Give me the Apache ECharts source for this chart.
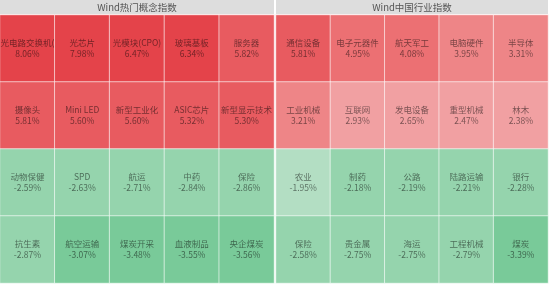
<!DOCTYPE html>
<html>
<head>
<meta charset="utf-8">
<script src="https://cdn.jsdelivr.net/npm/echarts@6/dist/echarts.min.js"></script>
<style>
  html, body { margin: 0; padding: 0; background: #fff; }
  #chart { width: 550px; height: 286px; }
</style>
</head>
<body>
<div id="chart"></div>
<script>
// 两块：热门概念 / 中国行业，每块 5 列 x 4 行，按行排列
const conceptTitle = 'Wind热门概念指数'
const conceptNames = [
  '光电路交换机(OCS)', '光芯片', '光模块(CPO)', '玻璃基板', '服务器',
  '摄像头', 'Mini LED', '新型工业化', 'ASIC芯片', '新型显示技术',
  '动物保健', 'SPD', '航运', '中药', '保险',
  '抗生素', '航空运输', '煤炭开采', '血液制品', '央企煤炭'
]
const conceptValues = [
  8.06, 7.98, 6.47, 6.34, 5.82,
  5.81, 5.60, 5.60, 5.32, 5.30,
  -2.59, -2.63, -2.71, -2.84, -2.86,
  -2.87, -3.07, -3.48, -3.55, -3.56
]

const industryTitle = 'Wind中国行业指数'
const industryNames = [
  '通信设备', '电子元器件', '航天军工', '电脑硬件', '半导体',
  '工业机械', '互联网', '发电设备', '重型机械', '林木',
  '农业', '制药', '公路', '陆路运输', '银行',
  '保险', '贵金属', '海运', '工程机械', '煤炭'
]
const industryValues = [
  5.81, 4.95, 4.08, 3.95, 3.31,
  3.21, 2.93, 2.65, 2.47, 2.38,
  -1.95, -2.18, -2.19, -2.21, -2.28,
  -2.58, -2.75, -2.75, -2.79, -3.39
]

const cols = ['c1', 'c2', 'c3', 'c4', 'c5']
const rows = ['r1', 'r2', 'r3', 'r4']

function toCells (names, values) {
  return names.map((name, i) => ({
    name,
    value: [i % cols.length, Math.floor(i / cols.length), values[i]]
  }))
}

const hiddenAxis = {
  type: 'category',
  show: false,
  axisLine: { show: false },
  axisTick: { show: false },
  splitLine: { show: false }
}

const cellLabel = {
  show: true,
  fontSize: 8.5,
  lineHeight: 11,
  color: 'rgba(0,0,0,0.5)',
  fontFamily: 'Noto Sans CJK SC',
  width: 60,
  overflow: 'truncate',
  ellipsis: '',
  formatter: p => p.name + '\n' + p.value[2].toFixed(2) + '%'
}

const cellStyle = {
  borderColor: 'rgba(255,255,255,0.6)',
  borderWidth: 1
}

const titleText = {
  fontSize: 9.5,
  fontWeight: 'normal',
  color: '#555',
  fontFamily: 'Noto Sans CJK SC'
}

const option = {
  animation: false,
  title: [
    { text: conceptTitle, left: 137, top: 7, textAlign: 'center', textVerticalAlign: 'middle', padding: 0, textStyle: titleText },
    { text: industryTitle, left: 412, top: 7, textAlign: 'center', textVerticalAlign: 'middle', padding: 0, textStyle: titleText }
  ],
  graphic: [
    { type: 'rect', z: -1, shape: { x: 0, y: 0, width: 274, height: 14 }, style: { fill: '#dddddd' } },
    { type: 'rect', z: -1, shape: { x: 276, y: 0, width: 272, height: 14 }, style: { fill: '#dddddd' } }
  ],
  grid: [
    { left: 0, top: 15, width: 274, height: 268 },
    { left: 276, top: 15, width: 272, height: 268 }
  ],
  xAxis: [
    Object.assign({ gridIndex: 0, data: cols }, hiddenAxis),
    Object.assign({ gridIndex: 1, data: cols }, hiddenAxis)
  ],
  yAxis: [
    Object.assign({ gridIndex: 0, data: rows, inverse: true }, hiddenAxis),
    Object.assign({ gridIndex: 1, data: rows, inverse: true }, hiddenAxis)
  ],
  visualMap: {
    type: 'piecewise',
    show: false,
    dimension: 2,
    seriesIndex: [0, 1],
    pieces: [
      { min: 6, color: '#e4434a' },
      { min: 5, max: 6, color: '#e85b60' },
      { min: 4, max: 5, color: '#ec7073' },
      { min: 3, max: 4, color: '#ee8587' },
      { min: 0, max: 3, color: '#f1a0a2' },
      { min: -2, max: 0, color: '#b3dec3' },
      { min: -3, max: -2, color: '#95d4ad' },
      { max: -3, color: '#79ca99' }
    ]
  },
  series: [
    {
      type: 'heatmap',
      xAxisIndex: 0,
      yAxisIndex: 0,
      data: toCells(conceptNames, conceptValues),
      label: cellLabel,
      itemStyle: cellStyle,
      emphasis: { disabled: true }
    },
    {
      type: 'heatmap',
      xAxisIndex: 1,
      yAxisIndex: 1,
      data: toCells(industryNames, industryValues),
      label: cellLabel,
      itemStyle: cellStyle,
      emphasis: { disabled: true }
    }
  ]
}

const myChart = echarts.init(document.getElementById('chart'))
myChart.setOption(option)
</script>
</body>
</html>
